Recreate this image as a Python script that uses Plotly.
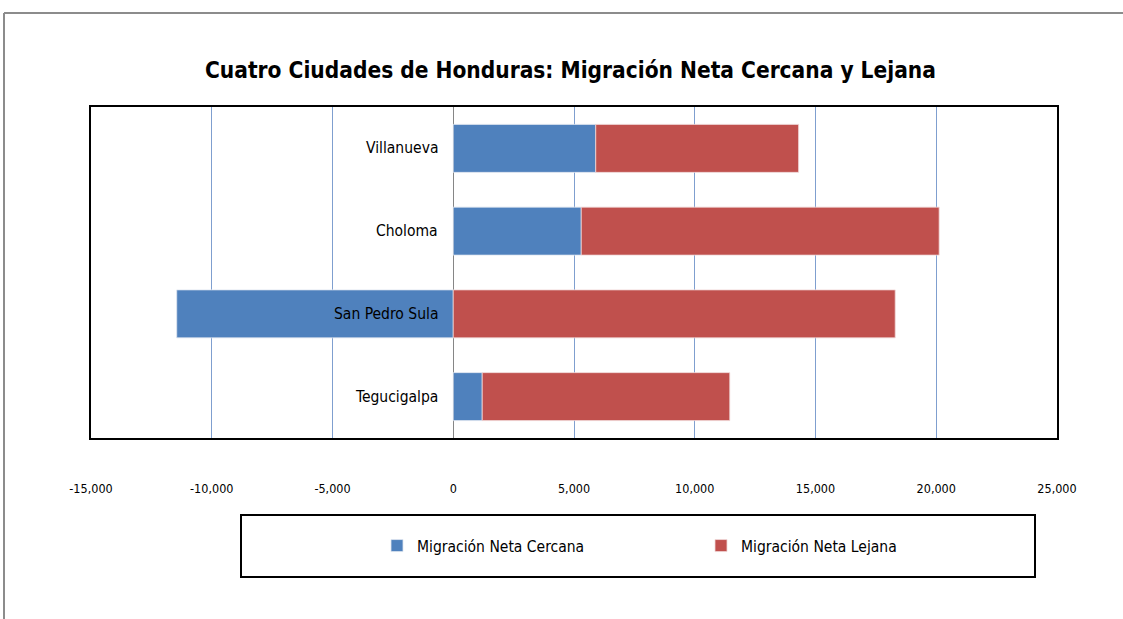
import plotly.graph_objects as go

categories = ["Tegucigalpa", "San Pedro Sula", "Choloma", "Villanueva"]
cercana = [1200, -11450, 5300, 5900]
lejana = [10250, 18300, 14820, 8400]
tick_vals = [-15000, -10000, -5000, 0, 5000, 10000, 15000, 20000, 25000]
tick_text = ["-15,000", "-10,000", "-5,000", "0", "5,000", "10,000", "15,000", "20,000", "25,000"]

FONT = "DejaVu Sans Condensed, DejaVu Sans, sans-serif"
BLUE = "#4f81bd"
RED = "#c0504d"

def f(size):
    return dict(family=FONT, size=size, color="#000")

fig = go.Figure()
fig.add_trace(go.Bar(y=categories, x=cercana, orientation="h", name="Migración Neta Cercana",
                     marker=dict(color=BLUE, line=dict(color="#dfe6f0", width=0.8))))
fig.add_trace(go.Bar(y=categories, x=lejana, orientation="h", name="Migración Neta Lejana",
                     marker=dict(color=RED, line=dict(color="#f0d8d8", width=0.8))))

for c in categories:
    fig.add_annotation(x=0, y=c, xref="x", yref="y", text=c, showarrow=False,
                       xanchor="right", xshift=-13, font=f(15.5))

PL, PR, PT, PB = 91, 1057, 107, 438
PW, PH = PR - PL, PB - PT

def px(x):
    return (x - PL) / PW

def py(y):
    return (PB - y) / PH

fig.update_layout(
    width=1123, height=619,
    barmode="relative", bargap=0.42,
    margin=dict(l=PL, r=1123 - PR, t=PT, b=619 - PB),
    paper_bgcolor="white", plot_bgcolor="white",
    font=f(14),
    title=dict(text="<b>Cuatro Ciudades de Honduras: Migración Neta Cercana y Lejana</b>",
               x=0.508, xanchor="center", y=1 - 70 / 619, yanchor="middle", yref="container",
               font=f(22.5)),
    xaxis=dict(range=[-15000, 25000], tickvals=tick_vals, ticktext=tick_text,
               showgrid=True, gridcolor="#7f9fcf", gridwidth=1,
               zeroline=True, zerolinecolor="#868686", zerolinewidth=1,
               showline=True, linecolor="#000", linewidth=2, mirror=True,
               ticks="", tickfont=f(12.5),
               ticklabelstandoff=38, fixedrange=True),
    yaxis=dict(showticklabels=False, showgrid=False, showline=True, linecolor="#000",
               linewidth=2, mirror=True, ticks="", fixedrange=True),
    showlegend=True,
    legend=dict(orientation="h", x=px(377), xanchor="left", y=py(546), yanchor="middle",
                yref="paper", font=f(15.5),
                entrywidth=279, entrywidthmode="pixels", traceorder="normal",
                bgcolor="rgba(0,0,0,0)"),
)

# legend frame
fig.add_shape(type="rect", xref="paper", yref="paper",
              x0=px(241), x1=px(1035), y0=py(577), y1=py(515),
              line=dict(color="#000", width=2), fillcolor="rgba(0,0,0,0)")
# outer chart frame
fig.add_shape(type="line", xref="paper", yref="paper",
              x0=px(4), x1=px(1123), y0=py(13), y1=py(13),
              line=dict(color="#8c8c8c", width=2))
fig.add_shape(type="line", xref="paper", yref="paper",
              x0=px(4), x1=px(4), y0=py(13), y1=py(619),
              line=dict(color="#8c8c8c", width=2))

fig.write_html("out.html", config={"displayModeBar": False},
               post_script="document.body.style.margin='0';")
